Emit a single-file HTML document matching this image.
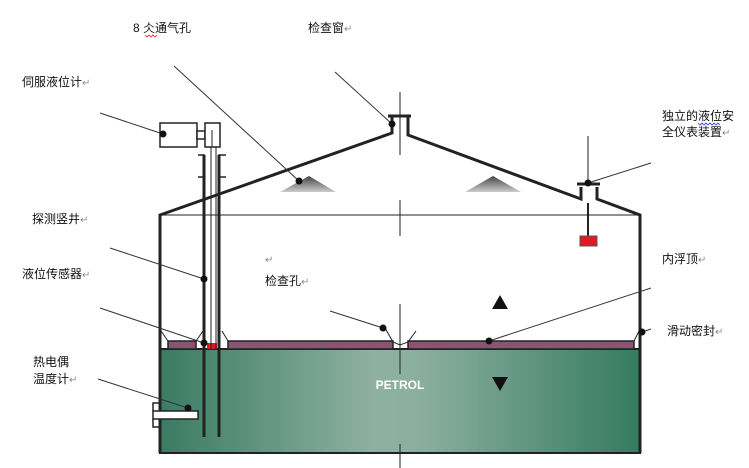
<!DOCTYPE html>
<html><head><meta charset="utf-8"><style>
html,body{margin:0;padding:0;background:#fff;}
svg{display:block;}
text{font-family:"Liberation Sans","Noto Sans CJK SC",sans-serif;font-size:12px;fill:#111;}
.r{fill:#888;font-size:10px;}
</style></head><body>
<svg width="749" height="468" viewBox="0 0 749 468" xmlns="http://www.w3.org/2000/svg">
<defs>
<linearGradient id="liq" x1="0" x2="1" y1="0" y2="0">
<stop offset="0" stop-color="#3a7b63"/>
<stop offset="0.45" stop-color="#8fb1a2"/>
<stop offset="0.55" stop-color="#8aae9e"/>
<stop offset="1" stop-color="#357a62"/>
</linearGradient>
<linearGradient id="mnd" x1="0" x2="0" y1="0" y2="1">
<stop offset="0" stop-color="#444"/>
<stop offset="1" stop-color="#ccc"/>
</linearGradient>
</defs>
<!-- liquid -->
<rect x="160" y="349" width="480" height="104" fill="url(#liq)" stroke="#222" stroke-width="2"/>
<!-- centerline -->
<g stroke="#222" stroke-width="1">
<line x1="400" y1="92" x2="400" y2="155"/>
<line x1="400" y1="200" x2="400" y2="236"/>
<line x1="400" y1="304" x2="400" y2="374"/>
<line x1="400" y1="444" x2="400" y2="468"/>
</g>
<!-- thin horizontal -->
<line x1="160" y1="215" x2="640" y2="215" stroke="#222" stroke-width="1"/>
<!-- tank shell & roof -->
<polyline points="160,453 160,215 392,133 392,117" fill="none" stroke="#222" stroke-width="3"/>
<polyline points="408,117 408,135 581,199 581,187" fill="none" stroke="#222" stroke-width="3"/>
<polyline points="597,187 597,199 640,215 640,453" fill="none" stroke="#222" stroke-width="3"/>
<line x1="388" y1="116" x2="411" y2="116" stroke="#222" stroke-width="3"/>
<line x1="577" y1="184" x2="600" y2="184" stroke="#222" stroke-width="3"/>
<!-- float gauge -->
<line x1="588" y1="136" x2="588" y2="183" stroke="#222" stroke-width="1"/>
<line x1="588" y1="203" x2="588" y2="236" stroke="#222" stroke-width="2"/>
<rect x="580" y="236" width="17" height="10" fill="#e01a22" stroke="#555" stroke-width="1"/>
<!-- mounds -->
<polygon points="280,192 309,176 336,192" fill="url(#mnd)"/>
<polygon points="465,192 493,176 521,192" fill="url(#mnd)"/>
<!-- floating roof deck -->
<g fill="#8c5470" stroke="#222" stroke-width="1.5">
<rect x="168" y="341" width="28" height="8"/>
<rect x="228" y="341" width="165" height="8"/>
<rect x="408" y="341" width="226" height="8"/>
</g>
<g stroke="#222" stroke-width="1" fill="none">
<polyline points="161,331 168,341"/>
<polyline points="639,331 634,341"/>
<polyline points="196,341 203,331"/>
<polyline points="228,341 222,331"/>
<polyline points="385,328 393,342 400,345 408,342 416,331"/>
</g>
<rect x="207" y="343" width="10" height="6" fill="#e01a22"/>
<!-- pipes -->
<g stroke="#222" fill="none">
<line x1="204" y1="155" x2="204" y2="437" stroke-width="3"/>
<line x1="219" y1="155" x2="219" y2="437" stroke-width="3"/>
<line x1="211" y1="130" x2="211" y2="349" stroke-width="1"/>
<line x1="216" y1="130" x2="216" y2="349" stroke-width="1"/>
<polyline points="198,155 204,155 204,177 198,177" stroke-width="1.5"/>
<polyline points="226,155 219,155 219,177 226,177" stroke-width="1.5"/>
</g>
<!-- servo gauge -->
<rect x="160" y="123" width="37" height="24" fill="#fff" stroke="#222" stroke-width="1.5"/>
<rect x="197" y="131" width="8" height="8" fill="#fff" stroke="#222" stroke-width="1.5"/>
<rect x="205" y="123" width="15" height="24" fill="#fff" stroke="#222" stroke-width="1.5"/>
<line x1="212" y1="130" x2="212" y2="147" stroke="#222" stroke-width="1"/>
<!-- thermowell -->
<rect x="153" y="411" width="45" height="8" fill="#fff" stroke="#222" stroke-width="1.5"/>
<polyline points="160,403 153,403 153,411" fill="none" stroke="#222" stroke-width="1.5"/>
<polyline points="153,419 153,427 160,427" fill="none" stroke="#222" stroke-width="1.5"/>
<!-- arrows -->
<polygon points="500,295 492,309 508,309" fill="#111"/>
<polygon points="492,377 508,377 500,391" fill="#111"/>
<text x="400" y="389" text-anchor="middle" style="font-weight:bold;font-size:12px;fill:#fff">PETROL</text>
<!-- leaders -->
<g stroke="#333" stroke-width="1">
<line x1="174" y1="66" x2="299" y2="181"/>
<line x1="335" y1="72" x2="392" y2="124"/>
<line x1="100" y1="113" x2="163" y2="134"/>
<line x1="651" y1="163" x2="588" y2="183"/>
<line x1="110" y1="248" x2="204" y2="279"/>
<line x1="100" y1="308" x2="204" y2="343"/>
<line x1="330" y1="311" x2="383" y2="328"/>
<line x1="651" y1="288" x2="489" y2="341"/>
<line x1="651" y1="329" x2="642" y2="332"/>
<line x1="98" y1="379" x2="188" y2="408"/>
</g>
<g fill="#111">
<circle cx="299" cy="181" r="3.5"/>
<circle cx="392" cy="124" r="3.5"/>
<circle cx="163" cy="134" r="3.5"/>
<circle cx="588" cy="183" r="3.5"/>
<circle cx="204" cy="279" r="3.5"/>
<circle cx="204" cy="343" r="3.5"/>
<circle cx="383" cy="328" r="3.5"/>
<circle cx="489" cy="341" r="3.5"/>
<circle cx="642" cy="332" r="3.5"/>
<circle cx="188" cy="408" r="3.5"/>
</g>
<!-- labels -->
<text x="133" y="32">8 仌通气孔</text>
<path d="M145,35 l2,2 2,-2 2,2 2,-2 2,2 2,-2" stroke="#e22" fill="none" stroke-width="0.8"/>
<text x="308" y="32">检查窗<tspan class="r">↵</tspan></text>
<text x="22" y="86">伺服液位计<tspan class="r">↵</tspan></text>
<text x="662" y="120">独立的液位安</text>
<path d="M698,123 l2,2 2,-2 2,2 2,-2 2,2 2,-2 2,2 2,-2 2,2 2,-2 2,2" stroke="#33f" fill="none" stroke-width="0.8"/>
<text x="662" y="136">全仪表装置<tspan class="r">↵</tspan></text>
<text x="32" y="223">探测竖井<tspan class="r">↵</tspan></text>
<text x="22" y="278">液位传感器<tspan class="r">↵</tspan></text>
<text x="265" y="263" class="r">↵</text>
<text x="265" y="285">检查孔<tspan class="r">↵</tspan></text>
<text x="662" y="263">内浮顶<tspan class="r">↵</tspan></text>
<text x="667" y="335">滑动密封<tspan class="r">↵</tspan></text>
<text x="33" y="366">热电偶</text>
<text x="33" y="383">温度计<tspan class="r">↵</tspan></text>
</svg>
</body></html>
